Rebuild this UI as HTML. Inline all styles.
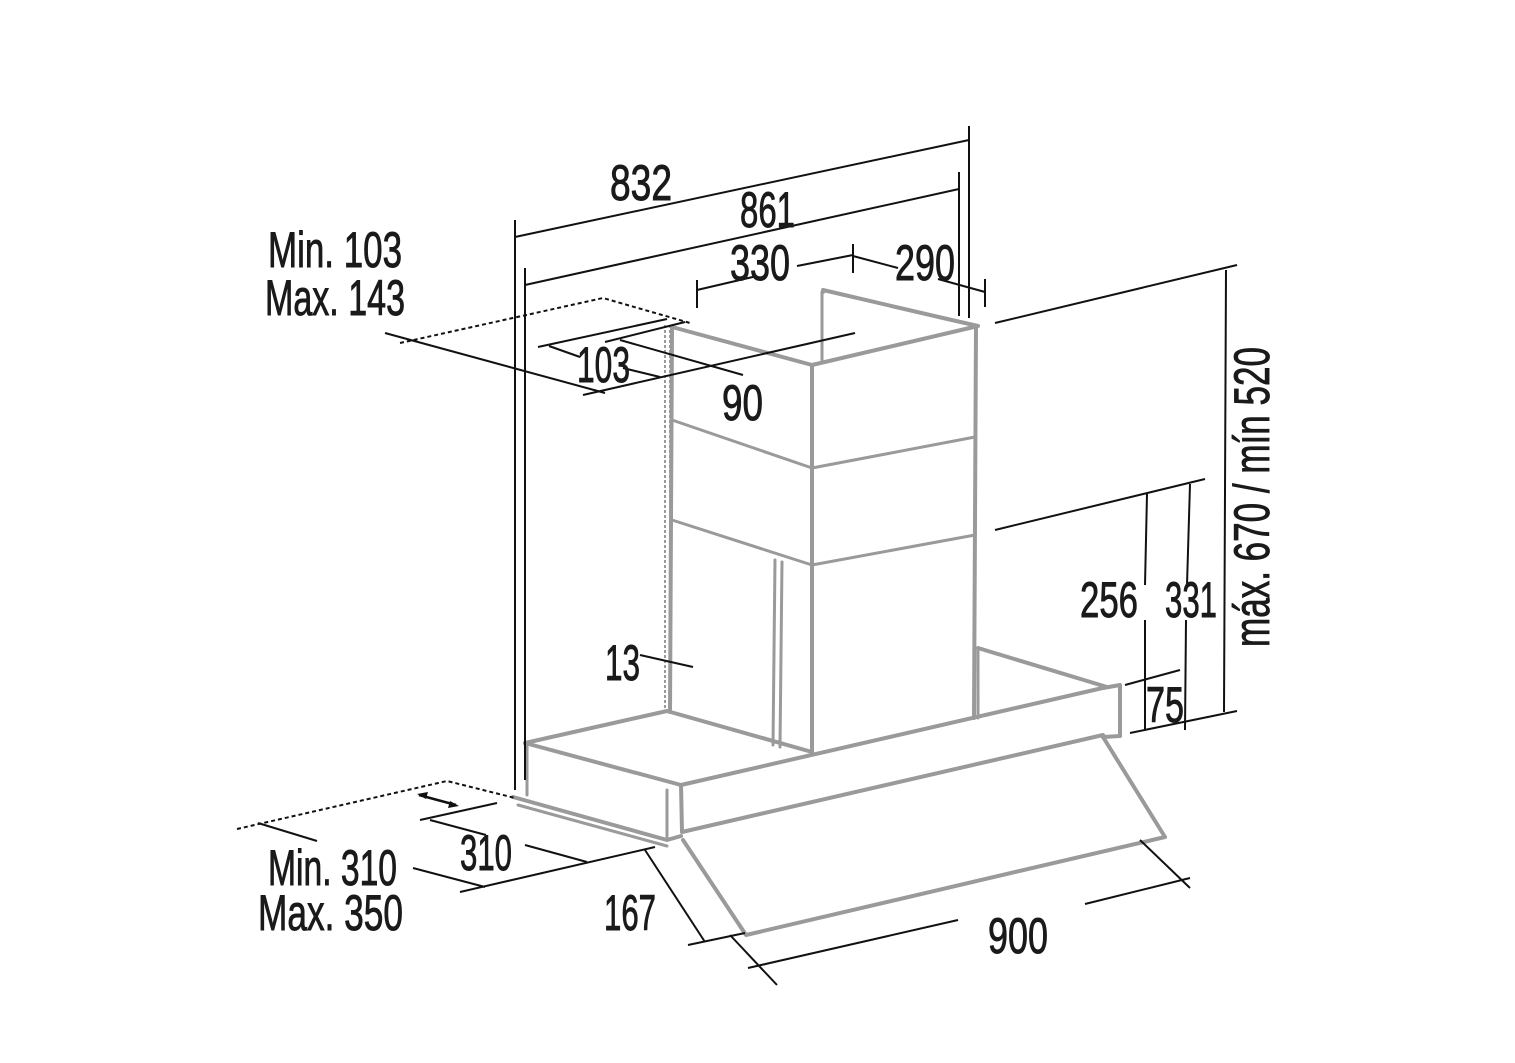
<!DOCTYPE html>
<html><head><meta charset="utf-8"><style>
html,body{margin:0;padding:0;background:#fff;}
svg{display:block;}
text{font-family:"Liberation Sans Narrow","Liberation Sans",sans-serif;font-size:50px;fill:#1a1a1a;stroke:#1a1a1a;stroke-width:0.9px;}
</style></head><body>
<svg width="1515" height="1063" viewBox="0 0 1515 1063" xmlns="http://www.w3.org/2000/svg">
<g stroke="#9a9a9a" stroke-width="4" fill="none" stroke-linejoin="round" stroke-linecap="round">
 <polyline points="823,292 823,290 943,318 978,326 812,365 672,327"/>
 <line x1="822" y1="292" x2="822" y2="360" stroke-width="3"/>
 <line x1="812" y1="365" x2="812" y2="752"/>
 <line x1="976" y1="326" x2="974" y2="718"/>
 <line x1="672" y1="327" x2="670" y2="712"/>
 <polyline points="672,420 812,468 975,437" stroke-width="3"/>
 <polyline points="672,520 812,565 975,535" stroke-width="3"/>
 <line x1="775" y1="560" x2="773" y2="745" stroke-width="3"/>
 <line x1="782" y1="562" x2="780" y2="747" stroke-width="3"/>
 <polyline points="525,743 667,711 812,752"/>
 <polyline points="525,743 681,785 1107,687 978,648"/>
 <line x1="978" y1="648" x2="978" y2="718" stroke-width="3"/>
 <polyline points="681,785 682,832 1103,735"/>
 <polyline points="1103,688 1120,685 1120,736 1103,737"/>
 <line x1="527" y1="745" x2="527" y2="795" stroke-width="3"/>
 <polyline points="513,797 667,840 681,836"/>
 <line x1="518" y1="805" x2="667" y2="846" stroke-width="3"/>
 <line x1="667" y1="790" x2="667" y2="840" stroke-width="3"/>
 <polyline points="683,840 746,935 1165,837 1103,737"/>
</g>
<g stroke="#9a9a9a" stroke-width="2" fill="none" stroke-dasharray="3,2">
 <line x1="665" y1="325" x2="665" y2="708"/>
 <line x1="670" y1="325" x2="670" y2="708"/>
</g>
<g stroke="#111" stroke-width="2" fill="none">
 <line x1="515" y1="237" x2="969" y2="140"/>
 <line x1="515" y1="220" x2="515" y2="790"/>
 <line x1="969" y1="126" x2="969" y2="318"/>
 <line x1="525" y1="285" x2="959" y2="189"/>
 <line x1="525" y1="268" x2="525" y2="780"/>
 <line x1="959" y1="172" x2="959" y2="316"/>
 <line x1="697" y1="290" x2="757" y2="276"/>
 <line x1="697" y1="280" x2="697" y2="308"/>
 <line x1="797" y1="266" x2="853" y2="255"/>
 <line x1="853" y1="244" x2="853" y2="273"/>
 <line x1="853" y1="256" x2="898" y2="268"/>
 <line x1="938" y1="279" x2="985" y2="292"/>
 <line x1="985" y1="279" x2="985" y2="307"/>
 <line x1="995" y1="323" x2="1237" y2="265"/>
 <line x1="1226" y1="270" x2="1224" y2="712"/>
 <line x1="995" y1="530" x2="1205" y2="479"/>
 <line x1="1147" y1="494" x2="1145" y2="585"/>
 <line x1="1145" y1="620" x2="1145" y2="730"/>
 <line x1="1190" y1="484" x2="1187" y2="585"/>
 <line x1="1186" y1="620" x2="1185" y2="730"/>
 <line x1="1130" y1="733" x2="1237" y2="711"/>
 <line x1="1125" y1="685" x2="1180" y2="670"/>
 <polyline points="400,343 603,298 690,323" stroke-dasharray="4,3"/>
 <line x1="385" y1="333" x2="605" y2="393"/>
 <line x1="538" y1="347" x2="667" y2="319"/>
 <line x1="605" y1="342" x2="685" y2="322"/>
 <line x1="549" y1="346" x2="580" y2="357"/>
 <line x1="623" y1="368" x2="660" y2="377"/>
 <line x1="620" y1="340" x2="743" y2="375"/>
 <line x1="583" y1="395" x2="855" y2="333"/>
 <line x1="640" y1="655" x2="693" y2="667"/>
 <polyline points="237,829 447,781 515,798" stroke-dasharray="4,3"/>
 <line x1="258" y1="823" x2="317" y2="841"/>
 <line x1="420" y1="820" x2="497" y2="803"/>
 <line x1="430" y1="820" x2="486" y2="835"/>
 <line x1="525" y1="845" x2="587" y2="862"/>
 <line x1="460" y1="892" x2="655" y2="847"/>
 <line x1="413" y1="868" x2="485" y2="887"/>
 <line x1="645" y1="850" x2="705" y2="942"/>
 <line x1="688" y1="945" x2="745" y2="933"/>
 <line x1="730" y1="935" x2="777" y2="985"/>
 <line x1="748" y1="968" x2="958" y2="920"/>
 <line x1="1085" y1="904" x2="1190" y2="878"/>
 <line x1="1140" y1="840" x2="1190" y2="888"/>
 <line x1="419" y1="795" x2="456" y2="805" stroke-width="2.5"/>
</g>
<polygon points="417,794 428,792 426,799" fill="#111"/>
<polygon points="459,806 448,808 450,801" fill="#111"/>
<text x="610" y="200" textLength="62" lengthAdjust="spacingAndGlyphs">832</text>
<text x="740" y="227" textLength="55" lengthAdjust="spacingAndGlyphs">861</text>
<text x="730" y="280" textLength="60" lengthAdjust="spacingAndGlyphs">330</text>
<text x="895" y="280" textLength="60" lengthAdjust="spacingAndGlyphs">290</text>
<text x="268" y="267" textLength="134" lengthAdjust="spacingAndGlyphs">Min. 103</text>
<text x="265" y="315" textLength="140" lengthAdjust="spacingAndGlyphs">Max. 143</text>
<text x="577" y="382" textLength="53" lengthAdjust="spacingAndGlyphs">103</text>
<text x="722" y="420" textLength="41" lengthAdjust="spacingAndGlyphs">90</text>
<text x="605" y="680" textLength="35" lengthAdjust="spacingAndGlyphs">13</text>
<text x="1080" y="617" textLength="58" lengthAdjust="spacingAndGlyphs">256</text>
<text x="1165" y="617" textLength="52" lengthAdjust="spacingAndGlyphs">331</text>
<text x="1146" y="722" textLength="38" lengthAdjust="spacingAndGlyphs">75</text>
<text x="268" y="885" textLength="129" lengthAdjust="spacingAndGlyphs">Min. 310</text>
<text x="258" y="930" textLength="145" lengthAdjust="spacingAndGlyphs">Max. 350</text>
<text x="460" y="870" textLength="52" lengthAdjust="spacingAndGlyphs">310</text>
<text x="604" y="930" textLength="52" lengthAdjust="spacingAndGlyphs">167</text>
<text x="988" y="953" textLength="60" lengthAdjust="spacingAndGlyphs">900</text>
<text transform="translate(1269,647) rotate(-90)" x="0" y="0" textLength="300" lengthAdjust="spacingAndGlyphs">máx. 670 / mín 520</text>
</svg>
</body></html>
